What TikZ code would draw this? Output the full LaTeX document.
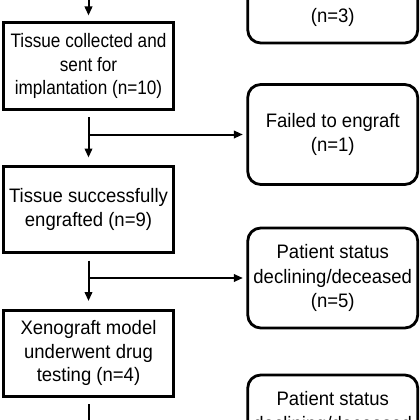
\documentclass[tikz,border=0pt]{standalone}
\usepackage{fontspec}
\setmainfont[FakeStretch=0.95]{Liberation Sans}
\newfontfamily\condfont[FakeStretch=0.88]{Liberation Sans}
\usetikzlibrary{arrows.meta,calc}
\newcommand{\emptyline}{\vphantom{(n=1)}}
\tikzset{
  stagebox/.style={draw, line width=3pt, minimum width=170pt, minimum height=86pt,
    align=center, inner sep=2pt, font=\fontsize{19.5}{23.5}\selectfont},
  exitbox/.style={draw, line width=2.8pt, rounded corners=13pt, minimum width=170pt,
    minimum height=100pt, align=center, inner sep=2pt, font=\fontsize{19.5}{24.5}\selectfont},
  conn/.style={line width=2pt},
  arr/.style={conn, -{Triangle[length=9pt,width=7.5pt]}},
}
\begin{document}
\begin{tikzpicture}[x=1pt,y=-1pt]
\clip (0,0) rectangle (420,420);
\fill[white] (0,0) rectangle (420,420);
% left column
\node[stagebox, font=\condfont\fontsize{19.5}{23.5}\selectfont] (b1) at (88.5,66) {Tissue collected and\\sent for\\implantation (n=10)};
\node[stagebox] (b2) at (88.5,209.5) {Tissue successfully\\engrafted (n=9)};
\node[stagebox] (b3) at (88.5,353) {Xenograft model\\underwent drug\\testing (n=4)};
% right column
\node[exitbox] (r0) at (332.75,-7) {\emptyline\\\emptyline\\(n=3)};
\node[exitbox] (r1) at (332.75,134.5) {Failed to engraft\\(n=1)};
\node[exitbox] (r2) at (332.75,278) {Patient status\\declining/deceased\\(n=5)};
\node[exitbox] (r3) at (332.75,425) {Patient status\\declining/deceased\\\emptyline};
% free ends
\coordinate (topend) at (88.5,-10);
\coordinate (botend) at (88.5,450);
% vertical connectors
\draw[arr, shorten >=6pt] (topend) -- (b1.north);
\draw[arr, shorten <=6.5pt, shorten >=7.5pt] (b1.south) -- (b2.north);
\draw[arr, shorten <=6.5pt, shorten >=7.5pt] (b2.south) -- (b3.north);
\draw[conn, shorten <=6.5pt] (b3.south) -- (botend);
% branches
\draw[arr, shorten >=3.5pt] (b1.south |- r1.west) -- (r1.west);
\draw[arr, shorten >=3.5pt] (b2.south |- r2.west) -- (r2.west);
\draw[arr, shorten >=3.5pt] (b3.south |- r3.west) -- (r3.west);
\end{tikzpicture}
\end{document}
